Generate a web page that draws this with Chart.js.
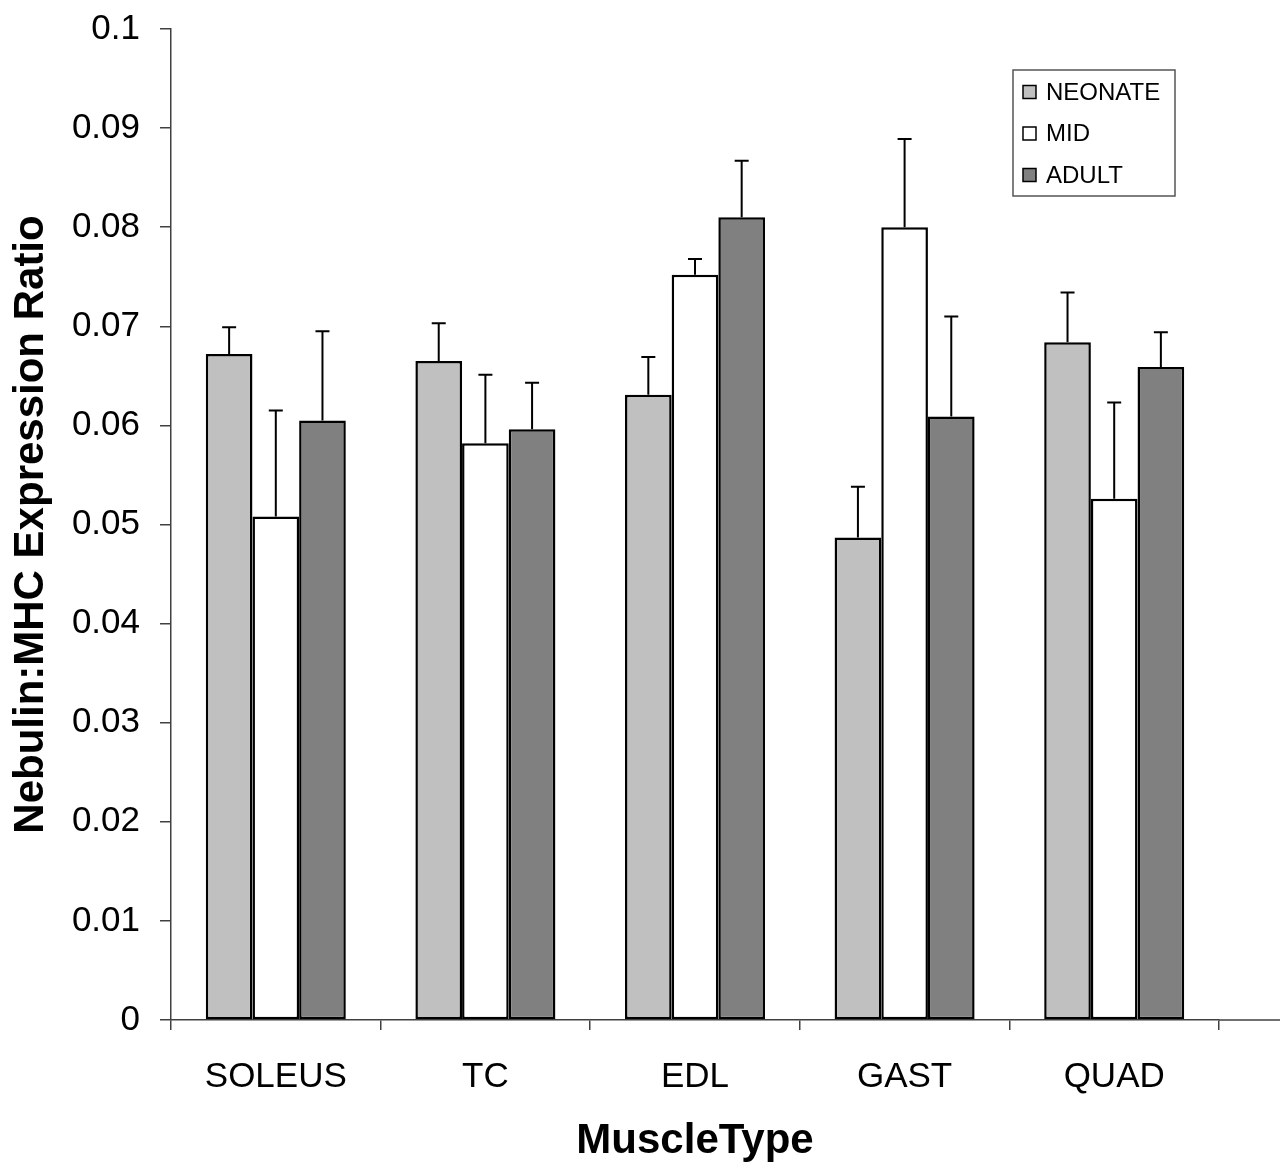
<!DOCTYPE html>
<html lang="en">
<head>
  <meta charset="UTF-8">
  <title>Nebulin:MHC Expression Ratio by Muscle Type</title>
  <script src="https://cdn.jsdelivr.net/npm/chart.js"></script>
  <style>
    body { margin: 0; background: #fff; }
    .chart-box { width: 1280px; height: 1163px; position: relative; }
  </style>
</head>
<body>
  <div class="chart-box">
    <canvas id="myChart"></canvas>
  </div>

  <script>
    // Datos
    const categorias = ['SOLEUS', 'TC', 'EDL', 'GAST', 'QUAD'];
    const series = ['NEONATE', 'MID', 'ADULT'];
    const neonate = [0.0672, 0.0665, 0.0631, 0.0487, 0.0684];
    const mid     = [0.0508, 0.0582, 0.0752, 0.0800, 0.0526];
    const adult   = [0.0605, 0.0596, 0.0810, 0.0609, 0.0659];
    // error (solo hacia arriba)
    const errNeonate = [0.0027, 0.0038, 0.0038, 0.0051, 0.0050];
    const errMid     = [0.0107, 0.0069, 0.0016, 0.0089, 0.0097];
    const errAdult   = [0.0090, 0.0047, 0.0057, 0.0101, 0.0035];
    const colores = ['#c0c0c0', '#ffffff', '#808080'];

    const FONT = "'Liberation Sans', Arial, sans-serif";
    const AXIS = '#404040';

    // Barras de error verticales
    const errorBars = {
      id: 'errorBars',
      afterDatasetsDraw(chart) {
        const ctx = chart.ctx;
        const y = chart.scales.y;
        ctx.save();
        ctx.strokeStyle = '#000';
        ctx.lineWidth = 2;
        chart.data.datasets.forEach((ds, i) => {
          const meta = chart.getDatasetMeta(i);
          meta.data.forEach((bar, j) => {
            const top = y.getPixelForValue(ds.data[j] + ds.errors[j]);
            ctx.beginPath();
            ctx.moveTo(bar.x, bar.y);
            ctx.lineTo(bar.x, top);
            ctx.moveTo(bar.x - 7, top);
            ctx.lineTo(bar.x + 7, top);
            ctx.stroke();
          });
        });
        ctx.restore();
      }
    };

    // Leyenda con recuadro dentro del area
    const boxLegend = {
      id: 'boxLegend',
      afterDraw(chart) {
        const ctx = chart.ctx;
        ctx.save();
        ctx.strokeStyle = '#555';
        ctx.lineWidth = 1.5;
        ctx.strokeRect(1013, 70, 162, 126);
        ctx.font = '24px ' + FONT;
        ctx.textBaseline = 'middle';
        chart.data.datasets.forEach((ds, i) => {
          const cy = 92 + i * 41.5;
          ctx.fillStyle = ds.backgroundColor;
          ctx.fillRect(1023, cy - 6.5, 13, 13);
          ctx.strokeStyle = '#000';
          ctx.lineWidth = 1.5;
          ctx.strokeRect(1023, cy - 6.5, 13, 13);
          ctx.fillStyle = '#000';
          ctx.fillText(ds.label, 1046, cy + 1);
        });
        ctx.restore();
      }
    };

    // Prolongar la linea del eje X hasta el borde
    const axisExtend = {
      id: 'axisExtend',
      afterDraw(chart) {
        const ctx = chart.ctx;
        const a = chart.chartArea;
        ctx.save();
        ctx.strokeStyle = AXIS;
        ctx.lineWidth = 1.5;
        ctx.beginPath();
        ctx.moveTo(a.right, a.bottom);
        ctx.lineTo(chart.width, a.bottom);
        ctx.stroke();
        ctx.restore();
      }
    };

    const valores = [neonate, mid, adult];
    const errores = [errNeonate, errMid, errAdult];

    const ctx = document.getElementById('myChart').getContext('2d');
    new Chart(ctx, {
      type: 'bar',
      data: {
        labels: categorias,
        datasets: series.map((s, i) => ({
          label: s,
          data: valores[i],
          errors: errores[i],
          backgroundColor: colores[i],
          borderColor: '#000',
          borderWidth: 2.5,
          borderSkipped: false,
          categoryPercentage: 0.668,
          barPercentage: 1.0
        }))
      },
      options: {
        responsive: true,
        maintainAspectRatio: false,
        animation: false,
        layout: { padding: { top: 29, right: 61, left: 0, bottom: 0 } },
        plugins: {
          legend: { display: false },
          tooltip: { enabled: false }
        },
        scales: {
          x: {
            afterFit: (scale) => {
              scale.height = 143;
              scale.paddingLeft = 0;
              scale.paddingRight = 0;
            },
            grid: {
              offset: true,
              drawOnChartArea: false,
              drawTicks: true,
              tickLength: 10,
              color: AXIS,
              lineWidth: 1.5
            },
            border: { color: AXIS, width: 1.5 },
            ticks: {
              color: '#000',
              padding: 26,
              font: { family: FONT, size: 35 }
            },
            title: {
              display: true,
              text: 'MuscleType',
              color: '#000',
              padding: { top: 0, bottom: 1 },
              font: { family: FONT, size: 42, weight: 'bold', lineHeight: 1.0 }
            }
          },
          y: {
            min: 0,
            max: 0.1,
            afterFit: (scale) => {
              scale.width = 171;
              scale.paddingTop = 0;
              scale.paddingBottom = 0;
            },
            grid: {
              drawOnChartArea: false,
              drawTicks: true,
              tickLength: 11,
              color: AXIS,
              lineWidth: 1.5
            },
            border: { color: AXIS, width: 1.5 },
            ticks: {
              stepSize: 0.01,
              color: '#000',
              padding: 20,
              font: { family: FONT, size: 35 },
              callback: (v) => String(Number(v.toFixed(2)))
            },
            title: {
              display: true,
              text: 'Nebulin:MHC Expression Ratio',
              color: '#000',
              padding: { top: 6, bottom: 0 },
              font: { family: FONT, size: 42, weight: 'bold', lineHeight: 1.2 }
            }
          }
        }
      },
      plugins: [errorBars, boxLegend, axisExtend]
    });
  </script>
</body>
</html>
